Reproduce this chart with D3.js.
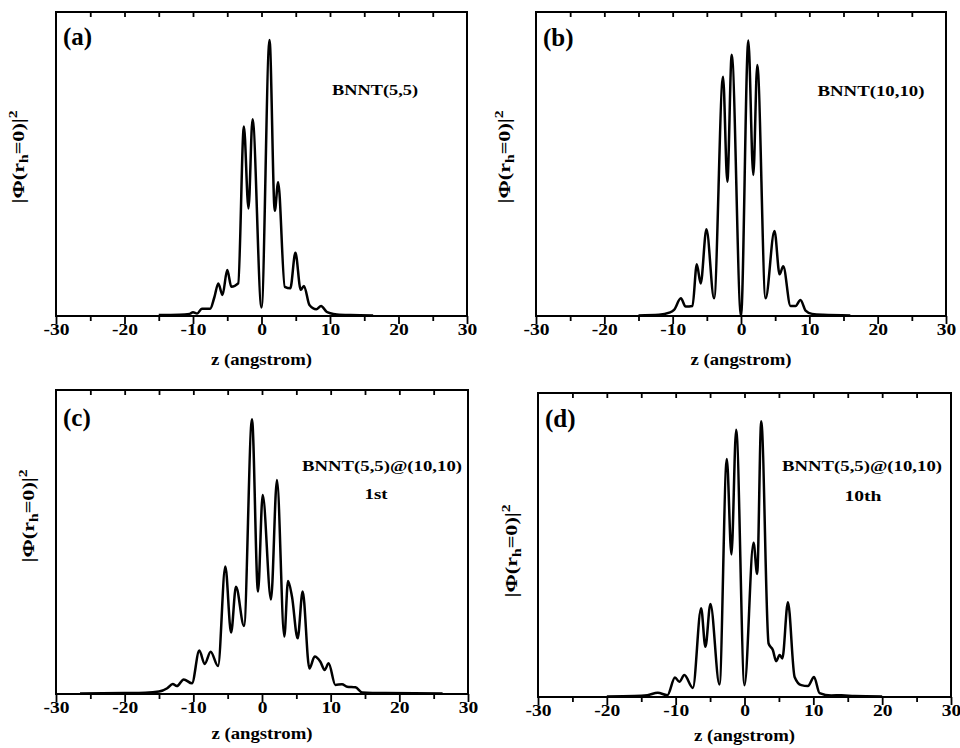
<!DOCTYPE html>
<html>
<head>
<meta charset="utf-8">
<script src="https://cdn.jsdelivr.net/npm/d3@7"></script>
<style>
body { margin: 0; background: #fff; }
text { font-family: "Liberation Serif", "Times New Roman", serif; font-weight: bold; fill: #000; }
</style>
</head>
<body>
<script>
// tick values
var majorTicks = [-30, -20, -10, 0, 10, 20, 30];
var minorTicks = [-25, -15, -5, 5, 15, 25];
var topTicks = [-25, -20, -15, -10, -5, 0, 5, 10, 15, 20, 25];

// (a) BNNT(5,5)
var zA = [-15, -12, -10.5, -10, -9.4, -8.7, -7.5, -6.9, -6.3, -5.7, -5.0, -4.4, -3.4, -2.57, -1.9, -1.31, 0, 1.17, 1.94, 2.43, 3.4, 4.2, 4.95, 5.73, 6.2, 7.0, 8.0, 8.7, 9.5, 10.05, 11, 13, 16.3];
var phiA = [0.003, 0.004, 0.007, 0.012, 0.008, 0.024, 0.024, 0.06, 0.107, 0.069, 0.151, 0.096, 0.107, 0.623, 0.354, 0.647, 0.028, 0.908, 0.346, 0.44, 0.096, 0.091, 0.208, 0.086, 0.099, 0.036, 0.022, 0.033, 0.014, 0.009, 0.005, 0.003, 0.002];

// (b) BNNT(10,10)
var zB = [-15, -12, -10.5, -9.8, -8.8, -8.1, -7.1, -6.47, -5.9, -5.06, -3.94, -2.63, -2.0, -1.36, 0, 1.07, 1.8, 2.38, 3.6, 4.9, 5.65, 6.18, 7.25, 8.0, 8.7, 9.45, 10.4, 12, 16];
var phiB = [0.002, 0.004, 0.011, 0.02, 0.058, 0.031, 0.033, 0.17, 0.107, 0.285, 0.058, 0.787, 0.442, 0.859, 0.0, 0.906, 0.464, 0.826, 0.058, 0.28, 0.137, 0.164, 0.033, 0.033, 0.053, 0.018, 0.007, 0.004, 0.002];

// (c) BNNT(5,5)@(10,10) 1st
var zC = [-26.5, -20, -17, -15, -13.8, -13.0, -12.4, -11.4, -10.2, -9.13, -8.35, -7.48, -6.4, -5.34, -4.5, -3.79, -2.62, -1.46, -0.58, 0.1, 1.31, 2.18, 3.25, 3.79, 4.37, 5.19, 5.92, 6.9, 7.67, 8.5, 9.13, 9.7, 10.68, 11.65, 12.4, 13.6, 14.6, 18, 26.3];
var phiC = [0.002, 0.003, 0.004, 0.008, 0.019, 0.033, 0.026, 0.048, 0.035, 0.143, 0.099, 0.139, 0.092, 0.419, 0.202, 0.353, 0.224, 0.904, 0.337, 0.655, 0.311, 0.704, 0.189, 0.372, 0.32, 0.183, 0.337, 0.084, 0.123, 0.106, 0.079, 0.101, 0.03, 0.032, 0.024, 0.022, 0.005, 0.003, 0.002];

// (d) BNNT(5,5)@(10,10) 10th
var zD = [-20, -16, -14.1, -12.6, -11.2, -10.1, -9.47, -8.74, -7.5, -6.3, -5.68, -4.95, -3.64, -2.57, -1.9, -1.21, 0, 1.31, 1.84, 2.43, 3.5, 4.13, 4.6, 5.1, 5.5, 6.31, 7.28, 8.25, 9.22, 10.1, 10.9, 12.6, 14.1, 16, 20];
var phiD = [0.002, 0.003, 0.006, 0.014, 0.006, 0.064, 0.05, 0.072, 0.03, 0.292, 0.165, 0.306, 0.041, 0.783, 0.469, 0.879, 0.039, 0.507, 0.405, 0.907, 0.176, 0.154, 0.118, 0.138, 0.127, 0.312, 0.066, 0.039, 0.036, 0.066, 0.013, 0.005, 0.006, 0.003, 0.002];

var panelTags = ["(a)", "(b)", "(c)", "(d)"];
var tubeNotes = [["BNNT(5,5)"], ["BNNT(10,10)"], ["BNNT(5,5)@(10,10)", "1st"], ["BNNT(5,5)@(10,10)", "10th"]];
var xTitle = "z (angstrom)";

var canvas = d3.select("body").append("svg")
    .attr("width", 960)
    .attr("height", 748);

// frame boxes and text spots (pixels)
var panels = [
    {left: 56, right: 467, top: 12, bottom: 316, z: zA, phi: phiA, tag: [63, 45], notes: [[375, 95, 86], [0, 0, 0]], ylab: [19, 157], title: 365},
    {left: 536, right: 946, top: 12, bottom: 316, z: zB, phi: phiB, tag: [543, 46], notes: [[871, 96, 107], [0, 0, 0]], ylab: [505, 157], title: 365},
    {left: 56, right: 468, top: 390, bottom: 694, z: zC, phi: phiC, tag: [63, 426], notes: [[382, 471, 160], [376, 499, 23]], ylab: [29, 516], title: 739},
    {left: 538, right: 951, top: 393, bottom: 697, z: zD, phi: phiD, tag: [545, 427], notes: [[862, 471, 160], [863, 501, 37]], ylab: [512, 551], title: 741}
];

function stretchText(t, cx, base, w){
    var len = t.node().getComputedTextLength();
    t.attr("transform", "translate(" + cx + "," + base + ") scale(" + (w / len) + ",1)");
}

function drawPanel(p, i){
    var x = d3.scaleLinear().domain([-30, 30]).range([p.left, p.right]);
    var y = d3.scaleLinear().domain([0, 1]).range([p.bottom, p.top]);
    var g = canvas.append("g");

    // top ticks point inward
    var topAxis = g.append("g")
        .attr("transform", "translate(0," + p.top + ")")
        .call(d3.axisTop(x).tickValues(topTicks).tickSize(-5).tickFormat(""));
    // minor ticks bottom
    var minAxis = g.append("g")
        .attr("transform", "translate(0," + p.bottom + ")")
        .call(d3.axisBottom(x).tickValues(minorTicks).tickSize(5).tickFormat(""));
    var majAxis = g.append("g")
        .attr("transform", "translate(0," + p.bottom + ")")
        .call(d3.axisBottom(x).tickValues(majorTicks).tickSize(8)
            .tickFormat(function(d){ return String(d); }));

    [topAxis, minAxis, majAxis].forEach(function(a){
        a.select(".domain").remove();
        a.selectAll(".tick line").attr("stroke", "#000").attr("stroke-width", 1.8);
    });
    majAxis.selectAll(".tick text")
        .attr("y", 19)
        .attr("dy", 0)
        .attr("font-size", 16)
        .attr("font-family", "Liberation Serif, Times New Roman, serif")
        .attr("font-weight", "bold")
        .attr("fill", "#000")
        .attr("transform", "scale(1.22,1)");

    g.append("rect")
        .attr("x", p.left)
        .attr("y", p.top)
        .attr("width", p.right - p.left)
        .attr("height", p.bottom - p.top)
        .attr("fill", "none")
        .attr("stroke", "#000")
        .attr("stroke-width", 2);

    var line = d3.line()
        .x(function(d){ return x(d[0]); })
        .y(function(d){ return y(d[1]); })
        .curve(d3.curveMonotoneX);

    g.append("path")
        .datum(d3.zip(p.z, p.phi))
        .attr("d", line)
        .attr("fill", "none")
        .attr("stroke", "#000")
        .attr("stroke-width", 2.5)
        .attr("stroke-linejoin", "round");

    g.append("text")
        .attr("x", p.tag[0])
        .attr("y", p.tag[1])
        .attr("font-size", 25)
        .text(panelTags[i]);

    tubeNotes[i].forEach(function(s, k){
        var t = g.append("text")
            .attr("text-anchor", "middle")
            .attr("font-size", 15)
            .text(s);
        stretchText(t, p.notes[k][0], p.notes[k][1], p.notes[k][2]);
    });

    var tt = g.append("text")
        .attr("text-anchor", "middle")
        .attr("font-size", 16)
        .text(xTitle);
    stretchText(tt, (p.left + p.right) / 2, p.title, 101);

    // |Phi(r_h=0)|^2
    var yl = g.append("text")
        .attr("text-anchor", "middle")
        .attr("y", 5)
        .attr("font-size", 17);
    yl.append("tspan").text("|\u03A6(r");
    yl.append("tspan").attr("font-size", 12).attr("dy", 4).text("h");
    yl.append("tspan").attr("dy", -4).text("=0)|");
    yl.append("tspan").attr("font-size", 12).attr("dy", -7).text("2");
    var len = yl.node().getComputedTextLength();
    yl.attr("transform", "translate(" + p.ylab[0] + "," + p.ylab[1] + ") rotate(-90) scale(" + (93 / len) + ",1)");
}

panels.forEach(drawPanel);
</script>
</body>
</html>
